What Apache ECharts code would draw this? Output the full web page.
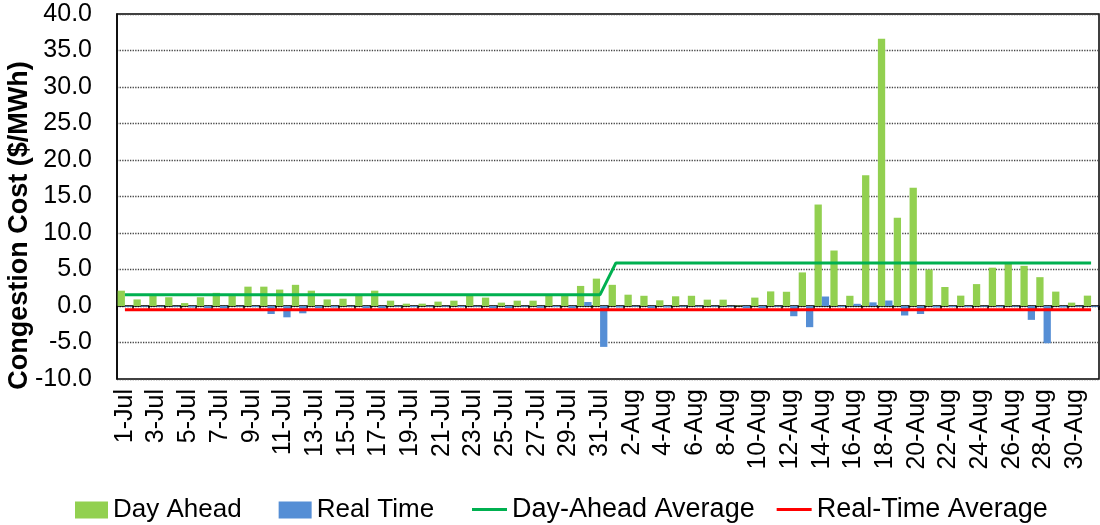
<!DOCTYPE html>
<html>
<head>
<meta charset="utf-8">
<script src="https://cdn.jsdelivr.net/npm/echarts@6/dist/echarts.min.js"></script>
<style>
html,body{margin:0;padding:0;background:#fff;}
#c{width:1100px;height:525px;}
</style>
</head>
<body>
<div id="c"></div>
<script>
var categories = [
 '1-Jul','2-Jul','3-Jul','4-Jul','5-Jul','6-Jul','7-Jul','8-Jul','9-Jul','10-Jul',
 '11-Jul','12-Jul','13-Jul','14-Jul','15-Jul','16-Jul','17-Jul','18-Jul','19-Jul','20-Jul',
 '21-Jul','22-Jul','23-Jul','24-Jul','25-Jul','26-Jul','27-Jul','28-Jul','29-Jul','30-Jul','31-Jul',
 '1-Aug','2-Aug','3-Aug','4-Aug','5-Aug','6-Aug','7-Aug','8-Aug','9-Aug','10-Aug',
 '11-Aug','12-Aug','13-Aug','14-Aug','15-Aug','16-Aug','17-Aug','18-Aug','19-Aug','20-Aug',
 '21-Aug','22-Aug','23-Aug','24-Aug','25-Aug','26-Aug','27-Aug','28-Aug','29-Aug','30-Aug','31-Aug'
];
var dayAhead = [
 2.1,0.9,1.4,1.2,0.4,1.2,1.8,1.4,2.65,2.65,
 2.25,2.9,2.1,0.9,1.0,1.4,2.1,0.73,0.32,0.32,
 0.6,0.73,1.4,1.15,0.46,0.73,0.73,1.4,1.4,2.75,3.75,
 2.9,1.55,1.4,0.78,1.33,1.4,0.87,0.87,0.05,1.15,
 2.0,1.95,4.6,13.9,7.6,1.4,17.9,36.6,12.1,16.2,
 5.0,2.6,1.42,3.0,5.25,5.75,5.5,3.95,1.97,0.46,1.42
];
var realTime = [
 -0.1,-0.1,-0.1,-0.1,-0.2,-0.3,-0.3,-0.1,-0.15,-1.1,
 -1.55,-1.0,-0.3,-0.2,-0.1,-0.3,-0.3,-0.1,-0.15,-0.1,
 -0.1,-0.15,-0.1,-0.3,-0.3,-0.1,-0.25,-0.15,-0.3,0.55,-5.6,
 -0.2,-0.1,-0.3,-0.2,-0.1,-0.1,-0.1,-0.1,-0.3,-0.3,
 -0.1,-1.4,-2.9,1.3,-0.15,0.3,0.5,0.75,-1.3,-1.1,
 -0.2,-0.15,-0.15,-0.1,-0.15,-0.1,-1.9,-5.1,-0.2,-0.1,-0.1
];
var months = ['Jul','Aug'];
var dayAheadMonthlyAvg = [1.55, 5.9];
var realTimeMonthlyAvg = [-0.5, -0.5];
var yTicks = [-10,-5,0,5,10,15,20,25,30,35,40];

function monthlyLine(avgs){
  return categories.map(function(c){
    var m = c.split('-')[1];
    return avgs[months.indexOf(m)];
  });
}

var FONT = 'Arial, "Liberation Sans", sans-serif';
var chart = echarts.init(document.getElementById('c'), null, {renderer:'canvas'});
chart.setOption({
  animation:false,
  textStyle:{fontFamily:FONT, color:'#000'},
  grid:{left:117, top:14, right:1, bottom:146, show:true, borderColor:'#000', borderWidth:1.5,
        backgroundColor:'transparent', containLabel:false, outerBoundsMode:'none'},
  legend:[
    {
      left:70, top:492, itemWidth:33, itemHeight:17, itemGap:37,
      textStyle:{fontSize:26, color:'#000', fontFamily:FONT},
      data:[{name:'Day Ahead', icon:'rect'},{name:'Real Time', icon:'rect'}]
    },
    {
      left:467, top:491, itemWidth:35, itemHeight:3, itemGap:22,
      textStyle:{fontSize:27, color:'#000', fontFamily:FONT},
      data:[{name:'Day-Ahead Average', icon:'rect'},{name:'Real-Time Average', icon:'rect'}]
    }
  ],
  xAxis:[
    {
      type:'category', data:categories, position:'bottom',
      axisLine:{show:false, onZero:false},
      axisTick:{show:false},
      axisLabel:{rotate:90, interval:1, fontSize:25, color:'#000', margin:10, fontFamily:FONT},
      splitLine:{show:false}
    },
    {
      type:'category', data:categories, position:'bottom',
      axisLine:{show:true, onZero:true, onZeroAxisIndex:0, lineStyle:{color:'#000', width:1.5}},
      axisTick:{show:true, interval:0, length:4, lineStyle:{color:'#000', width:1.5}},
      axisLabel:{show:false},
      splitLine:{show:false}
    }
  ],
  yAxis:{
    type:'value', min:yTicks[0], max:yTicks[yTicks.length-1], interval:5,
    name:'Congestion Cost ($/MWh)', nameLocation:'middle', nameGap:84, nameMoveOverlap:false,
    nameTextStyle:{fontSize:27, fontWeight:'bold', color:'#000', fontFamily:FONT, padding:[0,58,0,0]},
    axisLine:{show:true, lineStyle:{color:'#000', width:1.5}},
    axisTick:{show:false},
    axisLabel:{fontSize:25, color:'#000', margin:25, fontFamily:FONT, formatter:function(v){return v.toFixed(1);}},
    splitLine:{show:true, lineStyle:{color:'#444', type:'dotted', width:1.3}}
  },
  series:[
    {name:'Day Ahead', type:'bar', data:dayAhead, xAxisIndex:0, barGap:'0%', barCategoryGap:'8%',
      itemStyle:{color:'#92D050'}},
    {name:'Real Time', type:'bar', data:realTime, xAxisIndex:0, barGap:'0%', barCategoryGap:'8%',
      itemStyle:{color:'#558ED5'}},
    {name:'Day-Ahead Average', type:'line', data:monthlyLine(dayAheadMonthlyAvg), xAxisIndex:0,
      symbol:'none', lineStyle:{color:'#00B050', width:3}, itemStyle:{color:'#00B050'}, z:5},
    {name:'Real-Time Average', type:'line', data:monthlyLine(realTimeMonthlyAvg), xAxisIndex:0,
      symbol:'none', lineStyle:{color:'#FF0000', width:3}, itemStyle:{color:'#FF0000'}, z:6}
  ]
});
</script>
</body>
</html>
